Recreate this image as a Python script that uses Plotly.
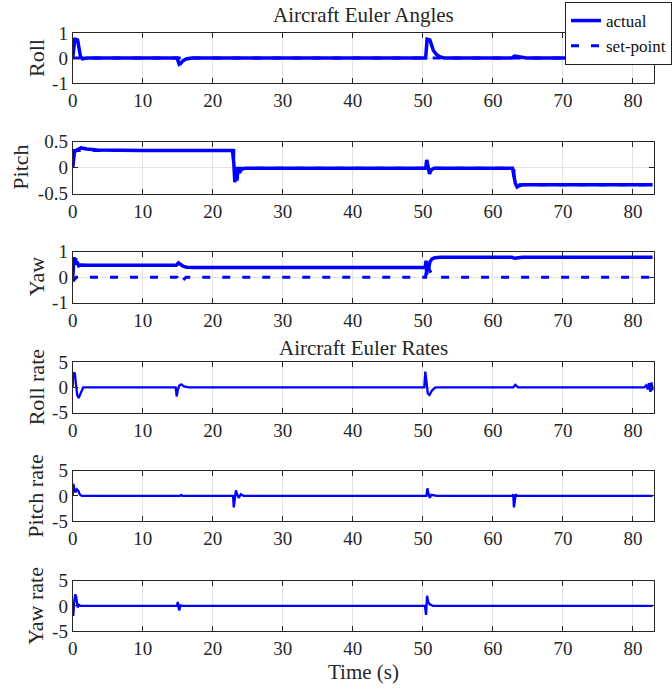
import plotly.graph_objects as go

W, H = 672, 689

# ---------------- data ----------------
t_roll = [0, 0.15, 0.3, 0.45, 0.7, 0.9, 1.1, 1.4, 2.0, 14.9, 15.05, 15.2, 15.4, 15.7, 16.2, 17.0,
          50.4, 50.5, 50.6, 51.0, 51.2, 51.5, 51.9, 52.4, 53.0, 62.7, 63.1, 63.5, 64.0, 64.8,
          82.2, 82.4, 82.6, 82.8]
roll = [0, 0.5, 0.75, 0.75, 0.72, 0.4, 0.08, -0.03, 0, 0, -0.15, -0.25, -0.22, -0.12, -0.04, 0,
        0, 0.5, 0.75, 0.72, 0.55, 0.3, 0.15, 0.05, 0, 0, 0.08, 0.06, 0.02, 0,
        0, -0.08, 0.05, -0.05]
t_roll_sp = [0, 82.8]
roll_sp = [0, 0]

t_pitch = [0, 0.1, 0.25, 0.6, 1.2, 2.0, 3.5, 10, 22.8, 23.0, 23.15, 23.3, 23.45, 23.6, 23.8, 24.1, 24.6,
           50.4, 50.55, 50.75, 50.95, 51.2, 51.6, 62.8, 63.0, 63.2, 63.45, 63.7, 64.2, 65.5, 82.8]
pitch = [0, 0.2, 0.3, 0.34, 0.38, 0.36, 0.34, 0.33, 0.33, 0.1, -0.28, -0.05, -0.25, -0.02, -0.1, -0.03, -0.01,
         -0.01, 0.15, 0.02, -0.12, -0.04, -0.01, -0.01, -0.2, -0.3, -0.37, -0.35, -0.33, -0.33, -0.33]
t_pitch_sp = [0, 23, 23, 63, 63, 82.8]
pitch_sp = [0.33, 0.33, -0.01, -0.01, -0.33, -0.33]

t_yaw = [0, 0.1, 0.2, 0.3, 0.4, 0.5, 0.65, 0.85, 1.2, 2.0, 14.8, 15.1, 15.4, 15.8, 16.3, 17.5,
         50.35, 50.45, 50.55, 50.65, 50.8, 51.0, 51.3, 51.7, 52.5, 62.7, 63.1, 63.5, 64.2, 82.8]
yaw = [0, 0.35, 0.78, 0.6, 0.75, 0.5, 0.6, 0.45, 0.48, 0.47, 0.47, 0.56, 0.5, 0.42, 0.39, 0.38,
       0.38, 0.65, 0.1, 0.55, 0.3, 0.6, 0.72, 0.76, 0.78, 0.78, 0.74, 0.76, 0.78, 0.78]
t_yaw_sp = [0, 0.2, 0.5, 14.9, 15.1, 15.3, 15.6, 16.2, 50.4, 50.5, 50.7, 51.0, 51.4, 51.9,
            82.3, 82.5, 82.7, 82.8]
yaw_sp = [0, -0.1, 0, 0, -0.15, -0.27, -0.15, 0, 0, 0.55, 0.45, 0.25, 0.08, 0,
          0, 0.05, -0.05, 0]

t_p = [0, 0.05, 0.15, 0.3, 0.45, 0.65, 0.85, 1.1, 1.5, 14.7, 14.85, 15.0, 15.2, 15.5, 15.9, 16.6,
       50.2, 50.35, 50.5, 50.7, 50.95, 51.3, 51.8, 62.9, 63.2, 63.6,
       81.6, 81.9, 82.1, 82.3, 82.5, 82.65, 82.8]
p_rate = [0, 3.0, 2.5, 2.9, 0.8, -1.5, -2.1, -1.2, 0, 0, -1.8, -0.6, 0.3, 0.6, 0.2, 0,
          0, 3.1, 1.0, -1.2, -1.5, -0.6, 0, 0, 0.5, 0,
          0, 0.4, -0.4, 0.8, -0.9, 1.0, -0.6]

t_q = [0, 0.08, 0.2, 0.4, 0.6, 0.85, 1.0, 1.3, 15.3, 15.5, 15.7,
       22.9, 23.0, 23.15, 23.3, 23.5, 23.7, 24.0, 24.4,
       50.5, 50.65, 50.8, 51.0, 51.2, 51.5, 52.0,
       62.8, 62.9, 63.0, 63.1, 63.25, 63.5, 82.8]
q_rate = [0, 2.4, 1.6, 0.7, 1.3, 0.9, 0.3, 0, 0, 0.15, 0,
          0, -2.3, -0.5, 1.1, 0.2, -0.4, 0.3, 0,
          0, 1.5, 0.4, -0.4, 0.2, 0.1, 0,
          0, 0.3, -2.3, -1.0, 0.3, 0, 0]

t_r = [0, 0.08, 0.2, 0.35, 0.5, 0.7, 0.9, 1.1, 14.9, 15.0, 15.1, 15.2, 15.4, 15.6,
       50.3, 50.45, 50.6, 50.75, 51.0, 51.4, 82.8]
r_rate = [0, -2.0, 0.5, 2.3, 1.8, -0.3, 0.2, 0, 0, 0.8, -0.2, -0.9, 0.1, 0,
          0, -1.8, 2.0, 0.8, 0.3, 0, 0]

x_ticks = [0, 10, 20, 30, 40, 50, 60, 70, 80]
angle_ticks = [-1, 0, 1]
angle_tick_text = ["-1", "0", "1"]
pitch_ticks = [-0.5, 0, 0.5]
pitch_tick_text = ["-0.5", "0", "0.5"]
rate_ticks = [-5, 0, 5]
rate_tick_text = ["-5", "0", "5"]
y_labels = ["Roll", "Pitch", "Yaw", "Roll rate", "Pitch rate", "Yaw rate"]

# ---------------- layout helpers ----------------
BLUE = "rgb(0,0,255)"
INK = "#262626"
FONT = "Liberation Serif"
x0_px, x1_px = 72.7, 654
panels_px = [(33, 83), (141.7, 193.7), (251.7, 302.7), (362, 412.7), (470.7, 521), (580.7, 631)]
label_x_px = [36, 21, 36, 36, 36, 36]

def py(y):
    return 1 - y / H

def px(x):
    return x / W

fig = go.Figure()

series = [
    (t_roll, roll, t_roll_sp, roll_sp),
    (t_pitch, pitch, t_pitch_sp, pitch_sp),
    (t_yaw, yaw, t_yaw_sp, yaw_sp),
    (t_p, p_rate, None, None),
    (t_q, q_rate, None, None),
    (t_r, r_rate, None, None),
]
yticks = [(angle_ticks, angle_tick_text), (pitch_ticks, pitch_tick_text), (angle_ticks, angle_tick_text),
          (rate_ticks, rate_tick_text), (rate_ticks, rate_tick_text), (rate_ticks, rate_tick_text)]

for i, (tx, vy, tsp, vsp) in enumerate(series):
    n = i + 1
    xa = "x" if n == 1 else f"x{n}"
    ya = "y" if n == 1 else f"y{n}"
    lw = 3.5 if i < 3 else 2.3
    fig.add_trace(go.Scatter(x=tx, y=vy, mode="lines", xaxis=xa, yaxis=ya,
                             line=dict(color=BLUE, width=lw),
                             name="actual", showlegend=(i == 0)))
    if tsp is not None:
        fig.add_trace(go.Scatter(x=tsp, y=vsp, mode="lines", xaxis=xa, yaxis=ya,
                                 line=dict(color=BLUE, width=3, dash="8px,12px"),
                                 name="set-point", showlegend=(i == 0)))

layout = dict(
    width=W, height=H,
    margin=dict(l=0, r=0, t=0, b=0),
    paper_bgcolor="white", plot_bgcolor="white",
    template="none",
    font=dict(family=FONT, size=18, color=INK),
    showlegend=True,
    legend=dict(x=1, y=py(2), xanchor="right", yanchor="top",
                bgcolor="white", bordercolor="#222", borderwidth=1,
                font=dict(family=FONT, size=17, color="#111"),
                tracegroupgap=0, itemwidth=30),
)

annotations = []
for i, (top, bot) in enumerate(panels_px):
    n = i + 1
    xk = "xaxis" if n == 1 else f"xaxis{n}"
    yk = "yaxis" if n == 1 else f"yaxis{n}"
    ya = "y" if n == 1 else f"y{n}"
    xa = "x" if n == 1 else f"x{n}"
    tv, tt = yticks[i]
    layout[xk] = dict(domain=[px(x0_px), px(x1_px)], anchor=ya, range=[0, 83],
                      tickmode="array", tickvals=x_ticks, ticks="inside", ticklen=5,
                      tickcolor=INK, showline=True, linecolor=INK, linewidth=1, mirror="ticks",
                      showgrid=True, gridcolor="#e3e3e3", gridwidth=1, zeroline=False,
                      tickfont=dict(family=FONT, size=19, color=INK), automargin=False,
                      ticklabelstandoff=0)
    layout[yk] = dict(domain=[py(bot), py(top)], anchor=xa, range=[tv[0], tv[-1]],
                      tickmode="array", tickvals=tv, ticktext=tt, ticks="inside", ticklen=5,
                      tickcolor=INK, showline=True, linecolor=INK, linewidth=1, mirror="ticks",
                      showgrid=True, gridcolor="#e3e3e3", gridwidth=1, zeroline=False,
                      tickfont=dict(family=FONT, size=19, color=INK), automargin=False)
    annotations.append(dict(text=y_labels[i], xref="paper", yref="paper",
                            x=px(label_x_px[i]), y=py((top + bot) / 2), textangle=-90,
                            showarrow=False, xanchor="center", yanchor="middle",
                            font=dict(family=FONT, size=22, color=INK)))

annotations.append(dict(text="Aircraft Euler Angles", xref="paper", yref="paper",
                        x=px((x0_px + x1_px) / 2), y=py(15), showarrow=False,
                        xanchor="center", yanchor="middle",
                        font=dict(family=FONT, size=21, color=INK)))
annotations.append(dict(text="Aircraft Euler Rates", xref="paper", yref="paper",
                        x=px((x0_px + x1_px) / 2), y=py(348), showarrow=False,
                        xanchor="center", yanchor="middle",
                        font=dict(family=FONT, size=21, color=INK)))
annotations.append(dict(text="Time (s)", xref="paper", yref="paper",
                        x=px((x0_px + x1_px) / 2), y=py(672), showarrow=False,
                        xanchor="center", yanchor="middle",
                        font=dict(family=FONT, size=21, color=INK)))
layout["annotations"] = annotations

fig.update_layout(**layout)
fig.write_html("out.html", config={"displayModeBar": False},
               post_script="document.body.style.margin='0';document.body.style.overflow='hidden';")
